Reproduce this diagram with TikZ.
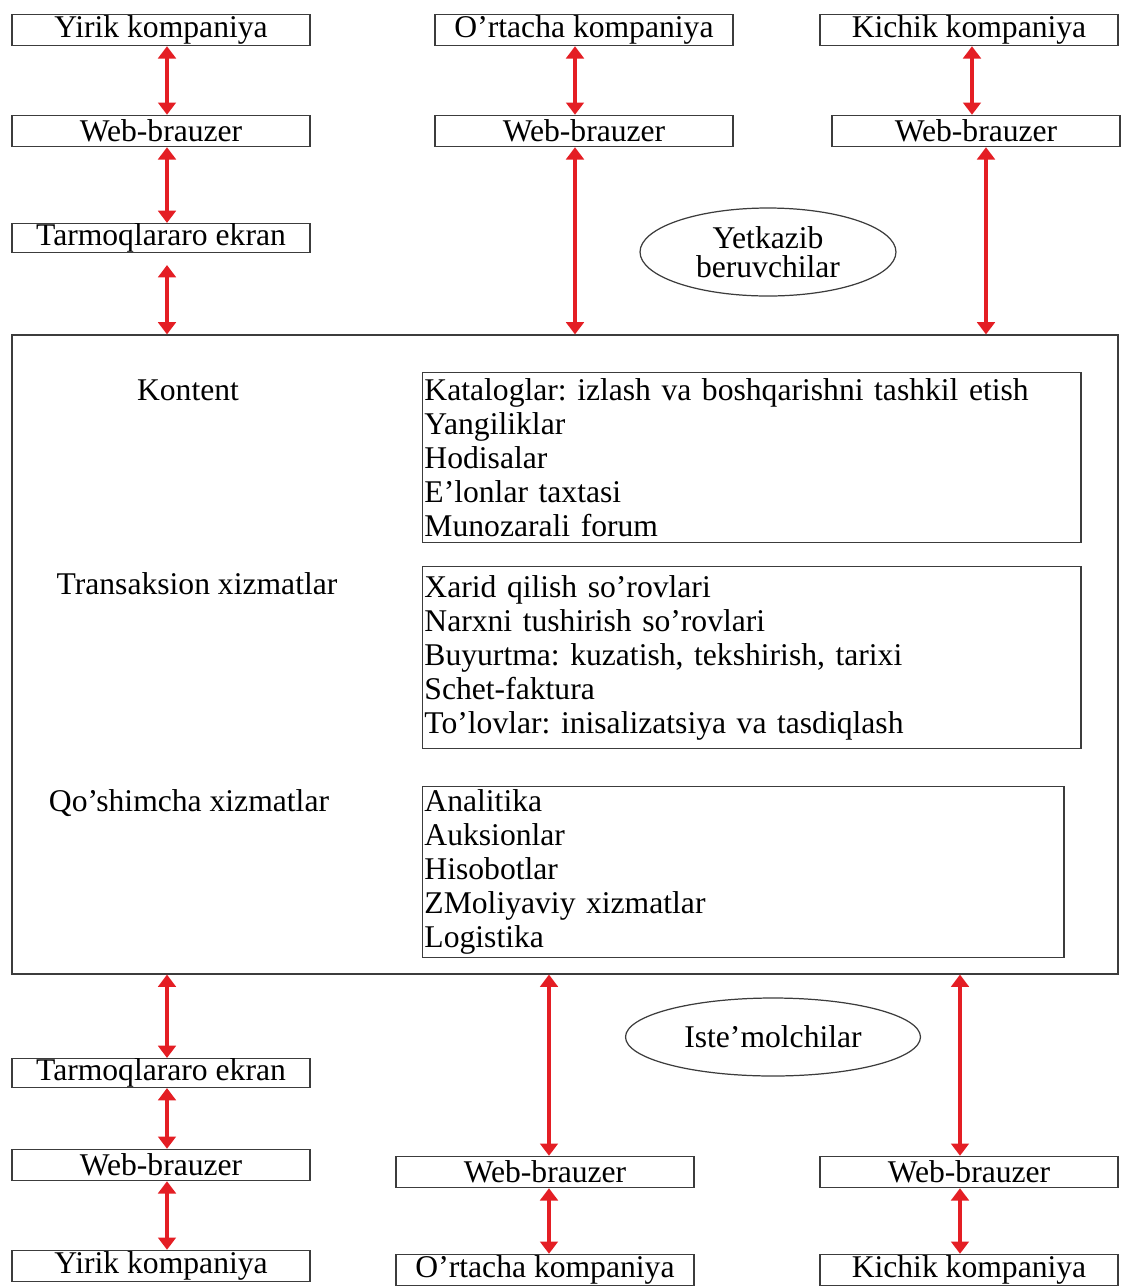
\documentclass[tikz,border=0pt]{standalone}
\usepackage{fontspec}
\setmainfont{Liberation Serif}
\usetikzlibrary{arrows.meta,shapes.geometric}
\definecolor{linkred}{RGB}{228,30,36}
\definecolor{boxgray}{RGB}{60,60,60}
\frenchspacing

\begin{document}
\begin{tikzpicture}[x=0.02cm, y=-0.02cm,
  firm node/.style={draw=boxgray, line width=0.8pt, inner sep=0pt, minimum width=5.96cm, minimum height=0.62cm},
  list node/.style={draw=boxgray, line width=0.8pt, anchor=north west, align=left, inner xsep=1pt, inner ysep=0pt},
  group node/.style={ellipse, draw=boxgray, line width=0.7pt, align=center, inner sep=0pt},
  link/.style={draw=linkred, line width=2pt, {Triangle[length=7pt,width=10pt]}-{Triangle[length=7pt,width=10pt]}}]
  \tikzstyle{every node}=[font=\fontsize{18}{19.4}\selectfont]
  \useasboundingbox (0,0) rectangle (1121,1286);

  % suppliers
  \node[firm node] (1) at (161,30) {Yirik kompaniya};
  \node[firm node] (2) at (584,30) {O’rtacha kompaniya};
  \node[firm node] (3) at (969,30) {Kichik kompaniya};
  \node[firm node] (4) at (161,131) {Web-brauzer};
  \node[firm node] (5) at (584,131) {Web-brauzer};
  \node[firm node, minimum width=5.76cm] (6) at (976,131) {Web-brauzer};
  \node[firm node, minimum height=0.56cm] (7) at (161,238) {Tarmoqlararo ekran};
  \node[group node, minimum width=5.12cm, minimum height=1.76cm] (8) at (768,252)
    {Yetkazib\\[-3pt]beruvchilar};

  % platform
  \node[draw=boxgray, line width=0.7pt, minimum width=22.12cm, minimum height=12.78cm] (9) at (565,654.5) {};
  \node (10) at (188,390) {Kontent};
  \node[list node, text width=13.1cm, minimum height=3.4cm] (11) at (422,372)
    {Kataloglar: izlash va boshqarishni tashkil etish\\Yangiliklar\\Hodisalar\\E’lonlar taxtasi\\Munozarali forum};
  \node (12) at (197,584) {Transaksion xizmatlar};
  \node[list node, text width=13.1cm, minimum height=3.64cm] (13) at (422,566)
    {Xarid qilish so’rovlari\\Narxni tushirish so’rovlari\\Buyurtma: kuzatish, tekshirish, tarixi\\Schet-faktura\\To’lovlar: inisalizatsiya va tasdiqlash};
  \node (14) at (189,803) {Qo’shimcha xizmatlar};
  \node[list node, text width=12.76cm, minimum height=3.42cm] (15) at (422,786)
    {Analitika\\Auksionlar\\Hisobotlar\\ZMoliyaviy xizmatlar\\Logistika};

  % consumers
  \node[group node, minimum width=5.9cm, minimum height=1.56cm] (16) at (773,1037) {Iste’molchilar};
  \node[firm node, minimum height=0.54cm] (17) at (161,1073) {Tarmoqlararo ekran};
  \node[firm node] (18) at (161,1165) {Web-brauzer};
  \node[firm node] (19) at (161,1266) {Yirik kompaniya};
  \node[firm node] (20) at (545,1172) {Web-brauzer};
  \node[firm node] (21) at (545,1270) {O’rtacha kompaniya};
  \node[firm node] (22) at (969,1172) {Web-brauzer};
  \node[firm node] (23) at (969,1270) {Kichik kompaniya};

  \coordinate (xl) at (167,0);
  \coordinate (xm) at (575,0);
  \coordinate (xr) at (972,0);
  \coordinate (xs) at (986,0);
  \coordinate (xn) at (549,0);
  \coordinate (xt) at (960,0);

  \path (1.south -| xl) edge[link] (4.north -| xl)
        (4.south -| xl) edge[link] (7.north -| xl)
        (7.south -| xl) edge[link, shorten <=0.24cm] (9.north -| xl)
        (2.south -| xm) edge[link] (5.north -| xm)
        (5.south -| xm) edge[link] (9.north -| xm)
        (3.south -| xr) edge[link] (6.north -| xr)
        (6.south -| xs) edge[link] (9.north -| xs);

  \path (9.south -| xl) edge[link] (17.north -| xl)
        (17.south -| xl) edge[link] (18.north -| xl)
        (18.south -| xl) edge[link] (19.north -| xl)
        (9.south -| xn) edge[link] (20.north -| xn)
        (20.south -| xn) edge[link] (21.north -| xn)
        (9.south -| xt) edge[link] (22.north -| xt)
        (22.south -| xt) edge[link] (23.north -| xt);
\end{tikzpicture}
\end{document}
